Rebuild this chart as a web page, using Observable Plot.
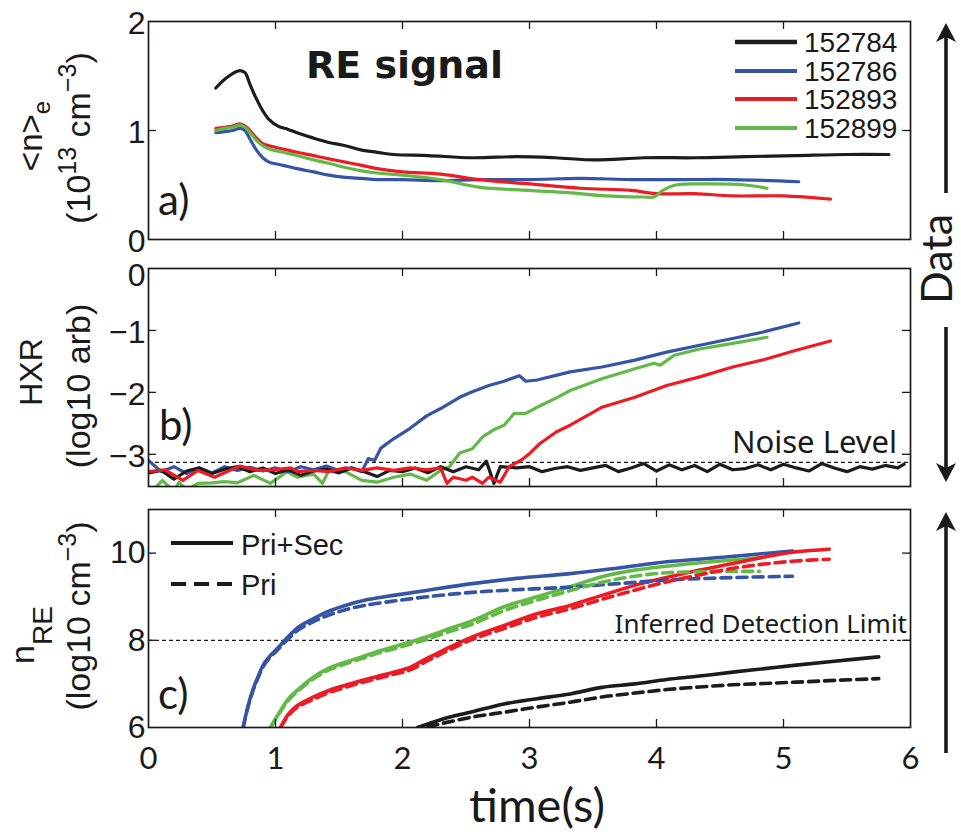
<!DOCTYPE html>
<html><head><meta charset="utf-8">
<script src="https://cdn.jsdelivr.net/npm/d3@7"></script>
<script src="https://cdn.jsdelivr.net/npm/@observablehq/plot@0.6"></script>
<style>
body{margin:0;background:#fff;}
#wrap{position:relative;width:961px;height:834px;overflow:hidden;background:#fff;}
#wrap svg{position:absolute;left:0;}
</style></head><body><div id="wrap"></div>
<script>
// ---------- categories / tick labels ----------
const shots = ["152784", "152786", "152893", "152899"];
const timeTicks = [0, 1, 2, 3, 4, 5, 6];
const neTicks = [0, 1, 2];
const hxrTopTick = [0];
const hxrTicks = [-1, -2, -3];
const nreTicks = [6, 8, 10];
const noiseLevel = -3.13;
const detectionLimit = 8;

// ---------- panel a: line-averaged density ----------
const ne_t_152784 = [0.53,0.6,0.66,0.72,0.76,0.8,0.85,0.9,0.95,1.02,1.1,1.17,1.3,1.42,1.55,1.68,1.8,1.93,2.2,2.55,2.9,3.2,3.52,3.9,4.3,4.7,5.1,5.5,5.83];
const ne_v_152784 = [1.39,1.47,1.52,1.55,1.53,1.42,1.29,1.18,1.10,1.04,1.01,0.98,0.93,0.89,0.86,0.82,0.80,0.78,0.77,0.75,0.76,0.75,0.73,0.75,0.75,0.76,0.77,0.78,0.78];
const ne_t_152786 = [0.53,0.6,0.66,0.72,0.76,0.8,0.85,0.9,0.95,1.02,1.1,1.17,1.3,1.42,1.55,1.68,1.8,2.0,2.3,2.6,3.0,3.4,3.8,4.2,4.6,5.12];
const ne_v_152786 = [0.98,0.99,1.00,1.02,1.00,0.92,0.82,0.75,0.71,0.69,0.67,0.65,0.62,0.59,0.57,0.56,0.55,0.55,0.54,0.55,0.55,0.56,0.55,0.55,0.55,0.53];
const ne_t_152893 = [0.53,0.6,0.66,0.72,0.76,0.8,0.85,0.9,0.95,1.02,1.1,1.17,1.3,1.42,1.55,1.68,1.8,2.0,2.3,2.6,3.0,3.4,3.8,4.0,4.3,4.6,5.0,5.37];
const ne_v_152893 = [1.02,1.03,1.04,1.06,1.04,1.00,0.93,0.88,0.86,0.84,0.82,0.80,0.77,0.74,0.71,0.68,0.65,0.62,0.60,0.55,0.51,0.47,0.45,0.42,0.42,0.40,0.40,0.37];
const ne_t_152899 = [0.53,0.6,0.66,0.72,0.76,0.8,0.85,0.9,0.95,1.02,1.1,1.17,1.3,1.42,1.55,1.68,1.8,2.0,2.3,2.6,3.0,3.3,3.6,3.9,3.98,4.05,4.15,4.4,4.7,4.87];
const ne_v_152899 = [1.00,1.02,1.03,1.05,1.03,0.98,0.91,0.86,0.83,0.81,0.79,0.77,0.73,0.70,0.66,0.63,0.61,0.59,0.55,0.48,0.45,0.43,0.40,0.39,0.39,0.45,0.50,0.51,0.50,0.47];

// ---------- panel b: HXR (log10 arb) ----------
const hxr_t_152784 = [0.0,0.1,0.2,0.3,0.4,0.5,0.6,0.7,0.8,0.9,1.0,1.1,1.2,1.3,1.4,1.5,1.6,1.7,1.8,1.9,2.0,2.1,2.2,2.3,2.4,2.5,2.6,2.66,2.72,2.77,2.9,3.0,3.1,3.2,3.3,3.4,3.5,3.6,3.7,3.8,3.9,4.0,4.1,4.2,4.3,4.4,4.5,4.6,4.7,4.8,4.9,5.0,5.1,5.2,5.3,5.4,5.5,5.6,5.7,5.8,5.9,5.95];
const hxr_v_152784 = [-3.30,-3.26,-3.40,-3.27,-3.22,-3.31,-3.24,-3.20,-3.28,-3.22,-3.31,-3.25,-3.34,-3.27,-3.24,-3.30,-3.22,-3.28,-3.36,-3.26,-3.28,-3.22,-3.30,-3.20,-3.28,-3.20,-3.25,-3.11,-3.47,-3.20,-3.22,-3.20,-3.28,-3.23,-3.20,-3.26,-3.22,-3.18,-3.28,-3.22,-3.15,-3.27,-3.17,-3.25,-3.18,-3.28,-3.16,-3.25,-3.23,-3.17,-3.25,-3.16,-3.22,-3.27,-3.15,-3.22,-3.28,-3.20,-3.24,-3.18,-3.22,-3.16];
const hxr_t_152786 = [0.0,0.1,0.2,0.3,0.4,0.5,0.6,0.7,0.8,0.9,1.0,1.1,1.2,1.3,1.4,1.5,1.6,1.68,1.73,1.78,1.83,1.93,2.06,2.19,2.32,2.45,2.55,2.68,2.8,2.92,2.97,3.06,3.32,3.57,3.83,4.08,4.34,4.6,4.85,5.12];
const hxr_v_152786 = [-3.10,-3.28,-3.20,-3.31,-3.22,-3.30,-3.20,-3.26,-3.21,-3.27,-3.22,-3.28,-3.20,-3.25,-3.19,-3.26,-3.22,-3.28,-3.07,-3.10,-2.90,-2.75,-2.58,-2.38,-2.24,-2.08,-1.99,-1.89,-1.82,-1.73,-1.82,-1.80,-1.67,-1.59,-1.48,-1.35,-1.24,-1.13,-1.02,-0.88];
const hxr_t_152893 = [0.0,0.13,0.27,0.39,0.52,0.65,0.72,0.86,0.99,1.12,1.17,1.3,1.42,1.55,1.68,1.8,1.93,2.06,2.19,2.3,2.35,2.4,2.5,2.55,2.63,2.68,2.77,2.84,2.93,3.0,3.08,3.21,3.32,3.52,3.57,3.83,4.08,4.34,4.6,4.85,5.1,5.37];
const hxr_v_152893 = [-3.28,-3.25,-3.42,-3.26,-3.37,-3.25,-3.19,-3.26,-3.25,-3.22,-3.28,-3.26,-3.28,-3.22,-3.26,-3.22,-3.26,-3.22,-3.25,-3.22,-3.47,-3.37,-3.42,-3.37,-3.47,-3.37,-3.45,-3.20,-3.10,-2.99,-2.83,-2.64,-2.53,-2.30,-2.24,-2.08,-1.89,-1.75,-1.59,-1.47,-1.32,-1.17];
const hxr_t_152899 = [0.05,0.11,0.2,0.24,0.3,0.39,0.5,0.6,0.7,0.83,0.96,1.09,1.17,1.3,1.37,1.42,1.55,1.68,1.8,1.93,2.06,2.19,2.3,2.37,2.45,2.55,2.63,2.73,2.8,2.88,2.97,3.06,3.22,3.32,3.57,3.83,3.98,4.03,4.14,4.34,4.6,4.87];
const hxr_v_152899 = [-3.55,-3.42,-3.60,-3.45,-3.58,-3.47,-3.46,-3.44,-3.46,-3.34,-3.47,-3.28,-3.37,-3.32,-3.47,-3.26,-3.28,-3.42,-3.45,-3.37,-3.32,-3.42,-3.26,-3.20,-2.98,-2.91,-2.72,-2.59,-2.53,-2.34,-2.34,-2.24,-2.08,-1.97,-1.78,-1.62,-1.53,-1.56,-1.40,-1.30,-1.21,-1.11];

// ---------- panel c: n_RE (log10 cm^-3), Pri+Sec (solid) and Pri (dashed) ----------
const nre_t_152784 = [2.12,2.3,2.55,2.8,3.06,3.32,3.57,3.83,4.08,4.34,4.6,4.85,5.1,5.4,5.75];
const nre_ps_152784 = [6.0,6.18,6.36,6.54,6.66,6.77,6.92,7.0,7.1,7.18,7.27,7.35,7.43,7.52,7.62];
const nre_tp_152784 = [2.2,2.55,2.8,3.06,3.32,3.57,3.83,4.08,4.34,4.6,4.85,5.1,5.4,5.75];
const nre_p_152784 = [6.02,6.24,6.35,6.47,6.58,6.7,6.79,6.87,6.93,6.98,7.01,7.04,7.08,7.12];
const nre_t_152786 = [0.745,0.78,0.82,0.86,0.91,0.96,1.01,1.09,1.18,1.3,1.42,1.55,1.7,1.93,2.2,2.55,2.9,3.32,3.7,4.08,4.5,5.07];
const nre_ps_152786 = [6.0,6.45,6.85,7.15,7.47,7.65,7.8,8.05,8.3,8.5,8.67,8.8,8.92,9.03,9.15,9.3,9.42,9.53,9.66,9.8,9.9,10.05];
const nre_p_152786 = [6.0,6.43,6.82,7.12,7.43,7.62,7.76,8.0,8.24,8.43,8.58,8.7,8.8,8.9,9.0,9.1,9.16,9.22,9.3,9.38,9.43,9.47];
const nre_t_152893 = [1.04,1.1,1.17,1.3,1.42,1.55,1.68,1.8,1.93,2.06,2.19,2.32,2.55,2.8,3.06,3.32,3.57,3.83,4.08,4.34,4.6,4.85,5.1,5.36];
const nre_ps_152893 = [6.0,6.3,6.5,6.7,6.85,6.97,7.08,7.17,7.27,7.38,7.58,7.77,8.08,8.34,8.61,8.8,9.03,9.26,9.44,9.61,9.76,9.91,10.03,10.09];
const nre_p_152893 = [6.0,6.27,6.46,6.65,6.8,6.92,7.03,7.12,7.22,7.32,7.52,7.71,8.02,8.27,8.53,8.72,8.94,9.15,9.34,9.5,9.65,9.75,9.82,9.86];
const nre_t_152899 = [0.96,1.04,1.1,1.17,1.3,1.42,1.55,1.68,1.8,1.93,2.06,2.19,2.35,2.55,2.8,3.06,3.32,3.57,3.83,4.08,4.34,4.6,4.81];
const nre_ps_152899 = [6.0,6.39,6.65,6.85,7.16,7.36,7.5,7.62,7.74,7.85,7.96,8.08,8.25,8.45,8.77,9.0,9.23,9.46,9.61,9.7,9.78,9.84,9.89];
const nre_p_152899 = [6.0,6.37,6.62,6.82,7.12,7.32,7.46,7.58,7.7,7.8,7.91,8.02,8.18,8.37,8.68,8.92,9.14,9.33,9.47,9.55,9.57,9.58,9.58];

// ---------- styles ----------
const shotColors = ["#1c1c1c", "#3554a5", "#ec1c24", "#63b946"];
const INK = "#1a1a1a";
const TICKFONT = "'Liberation Sans', Arial, sans-serif";
const GEOFONT = "Lato, 'DejaVu Sans', sans-serif";
const fmt = d => (d < 0 ? "\u2212" + (-d) : String(d));

const rows = (t, v, shot) => t.map((x, i) => ({t: x, v: v[i], shot}));

const dataA = [
  ...rows(ne_t_152784, ne_v_152784, "152784"),
  ...rows(ne_t_152786, ne_v_152786, "152786"),
  ...rows(ne_t_152893, ne_v_152893, "152893"),
  ...rows(ne_t_152899, ne_v_152899, "152899")
];
const dataB = [
  ...rows(hxr_t_152899, hxr_v_152899, "152899"),
  ...rows(hxr_t_152786, hxr_v_152786, "152786"),
  ...rows(hxr_t_152784, hxr_v_152784, "152784"),
  ...rows(hxr_t_152893, hxr_v_152893, "152893")
];
const dataCsolid = [
  ...rows(nre_t_152784, nre_ps_152784, "152784"),
  ...rows(nre_t_152786, nre_ps_152786, "152786"),
  ...rows(nre_t_152899, nre_ps_152899, "152899"),
  ...rows(nre_t_152893, nre_ps_152893, "152893")
];
const dataCdash = [
  ...rows(nre_tp_152784, nre_p_152784, "152784"),
  ...rows(nre_t_152786, nre_p_152786, "152786"),
  ...rows(nre_t_152899, nre_p_152899, "152899"),
  ...rows(nre_t_152893, nre_p_152893, "152893")
];

const W = 961, ML = 148, MR = 51;
const innerW = W - ML - MR;
const wrap = document.getElementById("wrap");
const yAxisOpts = {tickSize: 0, tickPadding: 3, tickFormat: fmt, fontSize: 32, fontFamily: TICKFONT, label: null, fill: INK};

function panel({top, height, mt, mb, domain, yAxes, innerY, marks, xLabels}) {
  const innerH = height - mt - mb;
  const inner = timeTicks.slice(1, -1);
  const p = Plot.plot({
    width: W, height, marginLeft: ML, marginRight: MR, marginTop: mt, marginBottom: mb,
    x: {domain: [0, 6], axis: null},
    y: {domain, axis: null},
    color: {domain: shots, range: shotColors},
    style: {background: "transparent", overflow: "visible", fontFamily: TICKFONT, color: INK},
    marks: [
      ...marks,
      Plot.tickX(inner, {x: d => d, insetTop: innerH - 8, stroke: INK, strokeWidth: 1.3}),
      Plot.tickX(inner, {x: d => d, insetBottom: innerH - 8, stroke: INK, strokeWidth: 1.3}),
      Plot.tickY(innerY, {y: d => d, insetRight: innerW - 8, stroke: INK, strokeWidth: 1.3}),
      Plot.tickY(innerY, {y: d => d, insetLeft: innerW - 8, stroke: INK, strokeWidth: 1.3}),
      ...yAxes,
      ...(xLabels ? [Plot.axisX(timeTicks, {tickSize: 0, tickPadding: 19, tickFormat: fmt, fontSize: 31, fontFamily: GEOFONT, label: null, fill: INK})] : []),
      Plot.frame({stroke: INK, strokeWidth: 1.7})
    ]
  });
  p.style.top = top + "px";
  wrap.appendChild(p);
}

panel({
  top: 0, height: 250, mt: 21, mb: 11, domain: [0, 2], innerY: [1],
  yAxes: [Plot.axisY(neTicks, {...yAxisOpts, dy: 2})],
  marks: [Plot.line(dataA, {x: "t", y: "v", z: "shot", stroke: "shot", strokeWidth: 3.2, curve: "catmull-rom", clip: true})]
});
panel({
  top: 250, height: 240, mt: 18, mb: 4, domain: [-3.52, 0], innerY: [-1, -2, -3],
  yAxes: [Plot.axisY(hxrTopTick, {...yAxisOpts, dy: 7}), Plot.axisY(hxrTicks, {...yAxisOpts, dy: 2})],
  marks: [
    Plot.ruleY([noiseLevel], {stroke: INK, strokeWidth: 1.3, strokeDasharray: "4,3"}),
    Plot.line(dataB, {x: "t", y: "v", z: "shot", stroke: "shot", strokeWidth: 3.2, clip: true})
  ]
});
panel({
  top: 490, height: 344, mt: 19, mb: 107, domain: [6, 11], innerY: [8, 10], xLabels: true,
  yAxes: [Plot.axisY(nreTicks, {...yAxisOpts, dy: 0})],
  marks: [
    Plot.ruleY([detectionLimit], {stroke: INK, strokeWidth: 1.3, strokeDasharray: "4,3"}),
    Plot.line(dataCsolid, {x: "t", y: "v", z: "shot", stroke: "shot", strokeWidth: 3.6, curve: "catmull-rom", clip: true}),
    Plot.line(dataCdash, {x: "t", y: "v", z: "shot", stroke: "shot", strokeWidth: 3.6, strokeDasharray: "10,6", curve: "catmull-rom", clip: true})
  ]
});

// ---------- annotations overlay ----------
function arrow(x, yTail, yTip) {
  const dir = yTip < yTail ? -1 : 1;
  const L = 19, hw = 10, notch = 5;
  const baseY = yTip - dir * L, notchY = yTip - dir * (L - notch);
  return `<line x1="${x}" y1="${yTail}" x2="${x}" y2="${notchY}" stroke="${INK}" stroke-width="3.6"/>
    <path d="M${x},${yTip} L${x - hw},${baseY} L${x},${notchY} L${x + hw},${baseY} Z" fill="${INK}"/>`;
}
const legendY = [42, 71, 99, 128];
const legendA = shots.map((s, i) => `
  <line x1="735" x2="797" y1="${legendY[i]}" y2="${legendY[i]}" stroke="${shotColors[i]}" stroke-width="${i === 0 ? 4.5 : 4}"/>
  <text x="804" y="${legendY[i] + 10}" font-family="${TICKFONT}" font-size="28" fill="${INK}">${s}</text>`).join("");

const ov = d3.create("svg").attr("width", 961).attr("height", 834).style("top", "0px");
ov.html(`
<g fill="${INK}" font-family="${TICKFONT}">
  <text transform="translate(42,136) rotate(-90)" text-anchor="middle" font-size="33">&lt;n&gt;<tspan dy="8" font-size="24">e</tspan></text>
  <text transform="translate(90,138) rotate(-90)" text-anchor="middle" font-size="34">(10<tspan dy="-14" font-size="25">13</tspan><tspan dy="14"> cm</tspan><tspan dy="-14" font-size="25">−3</tspan><tspan dy="14">)</tspan></text>
  <text transform="translate(42,372) rotate(-90)" text-anchor="middle" font-size="32">HXR</text>
  <text transform="translate(90,386) rotate(-90)" text-anchor="middle" font-size="34">(log10 arb)</text>
  <text transform="translate(34,635) rotate(-90)" text-anchor="middle" font-size="34">n<tspan dy="18" font-size="28">RE</tspan></text>
  <text transform="translate(90,616) rotate(-90)" text-anchor="middle" font-size="34">(log10 cm<tspan dy="-14" font-size="25">−3</tspan><tspan dy="14">)</tspan></text>
</g>
<g fill="${INK}" font-family="${GEOFONT}" font-size="42">
  <text x="158" y="215">a)</text>
  <text x="159" y="440">b)</text>
  <text x="158" y="709">c)</text>
</g>
<text x="306" y="78" font-family="'DejaVu Sans', sans-serif" font-weight="bold" font-size="38" fill="${INK}">RE signal</text>
${legendA}
<text x="897" y="453" text-anchor="end" font-family="'Noto Sans', sans-serif" font-size="31" fill="${INK}">Noise Level</text>
<text x="907" y="633" text-anchor="end" font-family="'Noto Sans', sans-serif" font-size="26" fill="${INK}">Inferred Detection Limit</text>
<line x1="171" x2="233" y1="543" y2="543" stroke="${INK}" stroke-width="4"/>
<line x1="171" x2="233" y1="584" y2="584" stroke="${INK}" stroke-width="4" stroke-dasharray="15,8"/>
<text x="241" y="555" font-family="${TICKFONT}" font-size="29" fill="${INK}">Pri+Sec</text>
<text x="241" y="595" font-family="${TICKFONT}" font-size="29" fill="${INK}">Pri</text>
${arrow(946, 193, 23)}
${arrow(946, 327, 482)}
${arrow(946, 753, 512)}
<text transform="translate(952,259) rotate(-90)" text-anchor="middle" font-family="${GEOFONT}" font-size="43" fill="${INK}">Data</text>
<text x="537" y="822" text-anchor="middle" font-family="${GEOFONT}" font-size="47" fill="${INK}">time(s)</text>
`);
wrap.appendChild(ov.node());
</script></body></html>
